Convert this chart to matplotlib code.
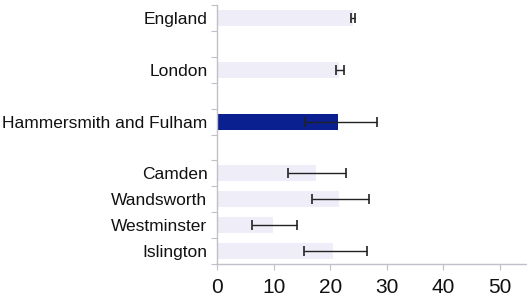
import matplotlib
matplotlib.use("Agg")
import matplotlib.pyplot as plt
import numpy as np

areas = ["England", "London", "Hammersmith and Fulham", "Camden", "Wandsworth", "Westminster", "Islington"]
values = [24.0, 21.6, 21.3, 17.5, 21.5, 9.8, 20.5]
ci_low = [23.7, 21.0, 15.5, 12.5, 16.7, 6.2, 15.4]
ci_high = [24.4, 22.4, 28.2, 22.8, 26.8, 14.2, 26.5]
xticks = [0, 10, 20, 30, 40, 50]

# slot positions (top to bottom), with blank slots between the upper groups
slots = [9, 7, 5, 3, 2, 1, 0]

plt.rcParams['font.family'] = ['Liberation Sans', 'DejaVu Sans']
fig = plt.figure(figsize=(5.27, 3.03), dpi=100)
ax = fig.add_axes([0.412, 0.129, 0.592, 0.854])

colors = ['#EFEDF8' if a != "Hammersmith and Fulham" else '#0B2090' for a in areas]
ax.barh(slots, values, height=0.62, color=colors, zorder=2)
v = np.array(values)
xerr = np.vstack([v - np.array(ci_low), np.array(ci_high) - v])
ax.errorbar(values, slots, xerr=xerr, fmt='none', ecolor='#222222', elinewidth=1.0,
            capsize=3.5, capthick=1.2, zorder=3)

ax.set_xlim(0, 55.2)
ax.set_ylim(-0.5, 9.5)
ax.set_xticks(xticks)
ax.set_xticklabels([str(t) for t in xticks], fontsize=15, color='#111111')
ax.set_yticks(np.arange(-0.5, 10, 1.0))
ax.set_yticklabels([])
ax.set_yticks(slots, minor=True)
ax.set_yticklabels(areas, minor=True, fontsize=12.5, color='#111111')
ax.tick_params(axis='y', which='minor', length=0, pad=7)
ax.tick_params(axis='y', which='major', length=4, color='#c0c0c8', direction='out')
ax.tick_params(axis='x', length=4, color='#c0c0c8', direction='out', pad=6)
for s in ['top', 'right']:
    ax.spines[s].set_visible(False)
for s in ['left', 'bottom']:
    ax.spines[s].set_color('#c0c0c8')
    ax.spines[s].set_linewidth(1.0)

fig.savefig("out.png", dpi=100)
